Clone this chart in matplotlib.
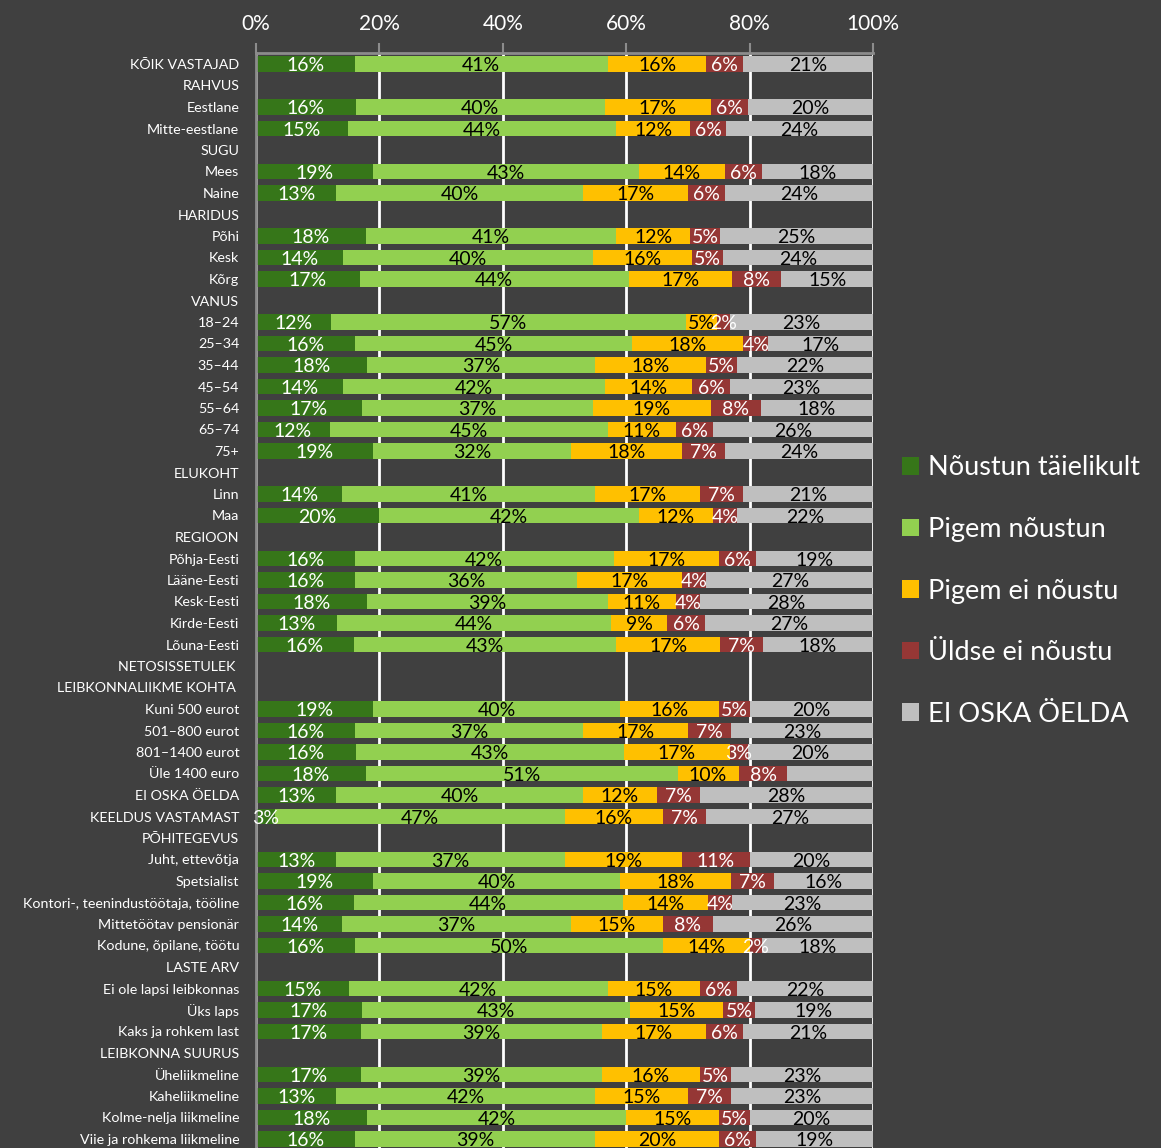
import numpy as np
import matplotlib
matplotlib.use("Agg")
import matplotlib.pyplot as plt
from matplotlib.patches import Patch

plt.rcParams['font.family'] = ['Lato', 'DejaVu Sans']

# rows (None = section header, no bar)
categories = [
    'KÕIK VASTAJAD', 'RAHVUS', 'Eestlane', 'Mitte-eestlane', 'SUGU', 'Mees', 'Naine',
    'HARIDUS', 'Põhi', 'Kesk', 'Kõrg', 'VANUS', '18–24', '25–34', '35–44', '45–54',
    '55–64', '65–74', '75+', 'ELUKOHT', 'Linn', 'Maa', 'REGIOON', 'Põhja-Eesti',
    'Lääne-Eesti', 'Kesk-Eesti', 'Kirde-Eesti', 'Lõuna-Eesti', 'NETOSISSETULEK ',
    'LEIBKONNALIIKME KOHTA ', 'Kuni 500 eurot', '501–800 eurot', '801–1400 eurot',
    'Üle 1400 euro', 'EI OSKA ÖELDA', 'KEELDUS VASTAMAST', 'PÕHITEGEVUS',
    'Juht, ettevõtja', 'Spetsialist', 'Kontori-, teenindustöötaja, tööline',
    'Mittetöötav pensionär', 'Kodune, õpilane, töötu', 'LASTE ARV',
    'Ei ole lapsi leibkonnas', 'Üks laps', 'Kaks ja rohkem last', 'LEIBKONNA SUURUS',
    'Üheliikmeline', 'Kaheliikmeline', 'Kolme-nelja liikmeline', 'Viie ja rohkema liikmeline',
]

taielikult = [16, None, 16, 15, None, 19, 13, None, 18, 14, 17, None, 12, 16, 18, 14, 17, 12, 19,
              None, 14, 20, None, 16, 16, 18, 13, 16, None, None, 19, 16, 16, 18, 13, 3, None,
              13, 19, 16, 14, 16, None, 15, 17, 17, None, 17, 13, 18, 16]
pigem_noustun = [41, None, 40, 44, None, 43, 40, None, 41, 40, 44, None, 57, 45, 37, 42, 37, 45, 32,
                 None, 41, 42, None, 42, 36, 39, 44, 43, None, None, 40, 37, 43, 51, 40, 47, None,
                 37, 40, 44, 37, 50, None, 42, 43, 39, None, 39, 42, 42, 39]
pigem_ei = [16, None, 17, 12, None, 14, 17, None, 12, 16, 17, None, 5, 18, 18, 14, 19, 11, 18,
            None, 17, 12, None, 17, 17, 11, 9, 17, None, None, 16, 17, 17, 10, 12, 16, None,
            19, 18, 14, 15, 14, None, 15, 15, 17, None, 16, 15, 15, 20]
uldse_ei = [6, None, 6, 6, None, 6, 6, None, 5, 5, 8, None, 2, 4, 5, 6, 8, 6, 7,
            None, 7, 4, None, 6, 4, 4, 6, 7, None, None, 5, 7, 3, 8, 7, 7, None,
            11, 7, 4, 8, 2, None, 6, 5, 6, None, 5, 7, 5, 6]
ei_oska = [21, None, 20, 24, None, 18, 24, None, 25, 24, 15, None, 23, 17, 22, 23, 18, 26, 24,
           None, 21, 22, None, 19, 27, 28, 27, 18, None, None, 20, 23, 20, 14, 28, 27, None,
           20, 16, 23, 26, 18, None, 22, 19, 21, None, 23, 23, 20, 19]

series_names = ['Nõustun täielikult', 'Pigem nõustun', 'Pigem ei nõustu',
                'Üldse ei nõustu', 'EI OSKA ÖELDA']
colors = ['#367619', '#92D050', '#FFC000', '#953735', '#BFBFBF']
label_colors = ['white', 'black', 'black', 'white', 'black']
# labels not shown in the original
hidden = {(33, 4)}

bg = '#404040'
fig = plt.figure(figsize=(11.61, 11.48), dpi=100, facecolor=bg)
ax = fig.add_axes([256 / 1161, 1 - 1149.75 / 1148, 617 / 1161, 1096.5 / 1148])
ax.set_facecolor(bg)

n = len(categories)
y = np.arange(n)
series = [taielikult, pigem_noustun, pigem_ei, uldse_ei, ei_oska]
data = np.array([[np.nan if x is None else x for x in s] for s in series], dtype=float)
totals = np.nansum(data, axis=0)
totals[totals == 0] = 1
# 100% stacked: each row scaled to its total
shares = data / totals * 100

left = np.zeros(n)
for k, col in enumerate(colors):
    v = shares[k]
    has = ~np.isnan(v)
    ax.barh(y[has], v[has], left=left[has], height=0.7, color=col, zorder=2)
    for i in np.where(has)[0]:
        if (i, k) in hidden:
            continue
        ax.text(left[i] + v[i] / 2, y[i] + 0.07, '%d%%' % data[k, i], ha='center', va='center',
                fontsize=14, color=label_colors[k], zorder=3)
    left[has] += v[has]

ax.set_xlim(0, 100)
ax.set_ylim(n - 0.5, -0.5)
ax.set_yticks(y)
ax.set_yticklabels(categories, fontsize=10.3, color='white')
ax.tick_params(axis='y', length=0, pad=12)
ax.xaxis.tick_top()
ax.set_xticks(np.arange(0, 101, 20))
ax.set_xticklabels(['%d%%' % t for t in range(0, 101, 20)], fontsize=15, color='white')
ax.tick_params(axis='x', length=7, width=1.5, color='#8C8C8C', pad=7)
ax.grid(axis='x', color='white', linewidth=2, zorder=0)
for s in ['right', 'bottom']:
    ax.spines[s].set_visible(False)
for s in ['top', 'left']:
    ax.spines[s].set_color('#8C8C8C')
    ax.spines[s].set_linewidth(2)

handles = [Patch(facecolor=c, label=l) for c, l in zip(colors, series_names)]
leg = fig.legend(handles=handles, loc='center left', bbox_to_anchor=(878 / 1161, 1 - 591 / 1148),
                 frameon=False, fontsize=19.5, labelspacing=1.35, handlelength=0.62,
                 handleheight=0.62, handletextpad=0.33, labelcolor='white')

fig.savefig('out.png', dpi=100, facecolor=bg)
